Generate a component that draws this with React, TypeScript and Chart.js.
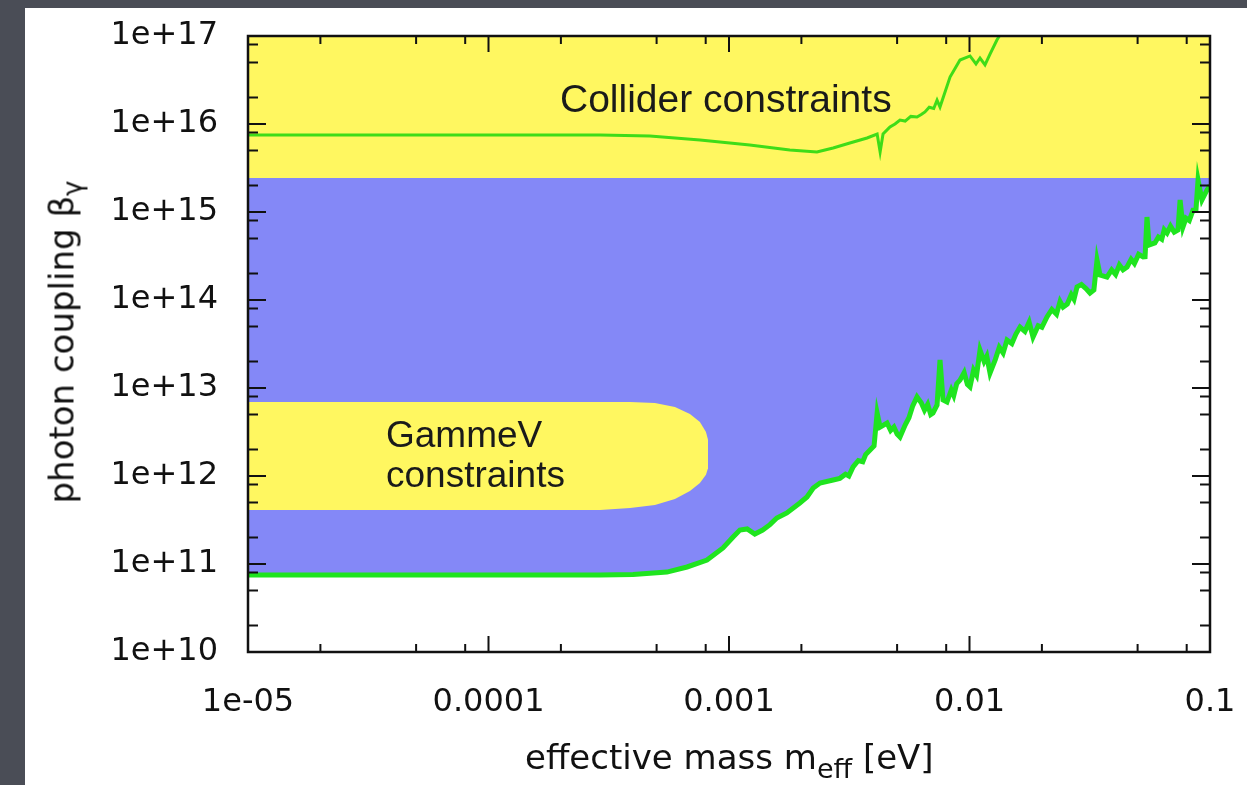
import React, { useEffect, useRef } from 'react';
import { Chart, registerables } from 'chart.js';

Chart.register(...registerables);

// ---- axis ticks ----
const xTickValues = [1e-5, 1e-4, 1e-3, 1e-2, 1e-1];
const xTickLabels = ['1e-05', '0.0001', '0.001', '0.01', '0.1'];
const yTickValues = [1e10, 1e11, 1e12, 1e13, 1e14, 1e15, 1e16, 1e17];
const yTickLabels = ['1e+10', '1e+11', '1e+12', '1e+13', '1e+14', '1e+15', '1e+16', '1e+17'];
const minorMultipliers = [2, 5, 8];

// ---- lower (laboratory) limit curve ----
const lowerMass = [
  1e-5, 2.91e-4, 3.99e-4, 5.52e-4, 6.69e-4, 8.1e-4, 9.44e-4, 1.04e-3, 1.11e-3, 1.19e-3,
  1.28e-3, 1.38e-3, 1.48e-3, 1.58e-3, 1.74e-3, 1.97e-3, 2.11e-3, 2.24e-3, 2.39e-3, 2.71e-3,
  2.89e-3, 3.05e-3, 3.15e-3, 3.28e-3, 3.45e-3, 3.6e-3, 3.7e-3, 3.86e-3, 4.01e-3, 4.13e-3,
  4.25e-3, 4.54e-3, 4.7e-3, 4.85e-3, 5.0e-3, 5.14e-3, 5.4e-3, 5.6e-3, 5.8e-3, 6.05e-3,
  6.3e-3, 6.5e-3, 6.7e-3, 6.9e-3, 7.05e-3, 7.33e-3, 7.54e-3, 7.76e-3, 8.06e-3, 8.4e-3,
  8.6e-3, 8.85e-3, 9.13e-3, 9.5e-3, 9.8e-3, 1.005e-2, 1.04e-2, 1.07e-2, 1.106e-2, 1.15e-2,
  1.18e-2, 1.217e-2, 1.28e-2, 1.33e-2, 1.38e-2, 1.432e-2, 1.5e-2, 1.56e-2, 1.622e-2, 1.7e-2,
  1.77e-2, 1.837e-2, 1.93e-2, 2.0e-2, 2.1e-2, 2.2e-2, 2.3e-2, 2.38e-2, 2.45e-2, 2.55e-2,
  2.65e-2, 2.72e-2, 2.8e-2, 2.92e-2, 3.05e-2, 3.17e-2, 3.29e-2, 3.39e-2, 3.49e-2, 3.73e-2,
  3.9e-2, 4.05e-2, 4.2e-2, 4.35e-2, 4.52e-2, 4.7e-2, 4.85e-2, 5.05e-2, 5.27e-2, 5.37e-2,
  5.47e-2, 5.58e-2, 5.9e-2, 6.1e-2, 6.3e-2, 6.45e-2, 6.63e-2, 6.85e-2, 7.1e-2, 7.36e-2,
  7.51e-2, 7.72e-2, 7.95e-2, 8.2e-2, 8.5e-2, 8.74e-2, 8.92e-2, 9.26e-2, 9.72e-2, 0.1,
];
const lowerCoupling = [
  7.5e10, 7.5e10, 7.6e10, 8.1e10, 9.25e10, 1.11e11, 1.52e11, 2.03e11, 2.43e11, 2.5e11,
  2.19e11, 2.43e11, 2.8e11, 3.33e11, 3.8e11, 4.93e11, 5.77e11, 7.31e11, 8.32e11, 9.01e11,
  9.4e11, 1.05e12, 1.0e12, 1.27e12, 1.5e12, 1.45e12, 1.75e12, 1.97e12, 2.2e12, 5.2e12,
  3.6e12, 4.0e12, 3.3e12, 3.6e12, 3.0e12, 2.77e12, 3.8e12, 4.6e12, 6.2e12, 7.91e12,
  6.8e12, 5.6e12, 6.5e12, 5.0e12, 5.2e12, 6.41e12, 2.08e13, 7.31e12, 6.93e12, 9.5e12,
  8.2e12, 1.12e13, 1.23e13, 1.5e13, 1.1e13, 1.03e13, 1.6e13, 1.4e13, 2.7e13, 2.0e13,
  2.3e13, 1.48e13, 2.1e13, 2.9e13, 2.5e13, 3.51e13, 3.2e13, 4.1e13, 4.93e13, 4.4e13,
  5.6e13, 3.8e13, 5.1e13, 4.9e13, 6.41e13, 7.8e13, 6.9e13, 9.6e13, 8.32e13, 9.0e13,
  1.15e14, 1.02e14, 1.41e14, 1.5e14, 1.35e14, 1.2e14, 1.3e14, 2.85e14, 1.92e14, 1.82e14,
  2.2e14, 1.95e14, 2.5e14, 2.2e14, 2.37e14, 2.9e14, 2.6e14, 3.3e14, 3.08e14, 3.1e14,
  8.77e14, 4.22e14, 4.45e14, 5.2e14, 4.9e14, 6.3e14, 5.77e14, 6.9e14, 5.9e14, 6.24e14,
  1.37e15, 6.76e14, 8.5e14, 8.0e14, 1.05e15, 1.05e15, 2.31e15, 1.37e15, 1.78e15, 2.0e15,
];

// ---- collider limit curve ----
const colliderMass = [
  1e-5, 2.91e-4, 4.69e-4, 7.58e-4, 1.22e-3, 1.79e-3, 2.32e-3, 2.71e-3, 3.18e-3, 3.75e-3,
  4.13e-3, 4.25e-3, 4.37e-3, 4.67e-3, 4.9e-3, 5.14e-3, 5.4e-3, 5.7e-3, 6.05e-3, 6.3e-3,
  6.53e-3, 6.8e-3, 7.1e-3, 7.33e-3, 7.54e-3, 8.3e-3, 9.13e-3, 1.005e-2, 1.064e-2, 1.106e-2,
  1.16e-2, 1.217e-2, 1.3e-2, 1.378e-2,
];
const colliderCoupling = [
  7.5e15, 7.5e15, 7.3e15, 6.58e15, 5.77e15, 5.07e15, 4.81e15, 5.34e15, 6.08e15, 6.93e15,
  7.7e15, 4.81e15, 7.7e15, 9.24e15, 1.0e16, 1.11e16, 1.08e16, 1.22e16, 1.2e16, 1.28e16,
  1.37e16, 1.55e16, 1.5e16, 1.87e16, 1.56e16, 3.42e16, 5.33e16, 5.93e16, 4.81e16, 5.62e16,
  4.71e16, 6.24e16, 9.0e16, 1.17e17,
];

// ---- GammeV excluded island ----
const gammevMass = [1e-5, 2.91e-4, 3.88e-4, 4.92e-4, 5.96e-4, 6.88e-4, 7.57e-4, 8.02e-4, 8.18e-4];
const gammevTop = [6.93e12, 6.93e12, 6.93e12, 6.76e12, 6.09e12, 5.07e12, 4.11e12, 3.16e12, 2.57e12];
const gammevBottom = [4.11e11, 4.11e11, 4.33e11, 4.68e11, 5.48e11, 6.76e11, 8.3e11, 1.03e12, 1.23e12];

// ---- collider excluded band (lower edge) ----
const colliderBandMass = [1e-5, 0.1];
const colliderBandCoupling = [2.43e15, 2.43e15];

const YELLOW = '#fff760';
const BLUE = '#8488f7';
const GREEN = '#1fe41f';
const GREEN2 = '#3fdc18';
const CLEAR = 'rgba(0,0,0,0)';

const pts = (xs: number[], ys: number[]) => xs.map((x, i) => ({ x, y: ys[i] }));

const noPad = (scale: any) => {
  scale.paddingLeft = 0;
  scale.paddingRight = 0;
  scale.paddingTop = 0;
  scale.paddingBottom = 0;
};

const framePlugin = {
  id: 'frame',
  afterDatasetsDraw(chart: any) {
    const { ctx, chartArea, scales } = chart;
    const { left, right, top, bottom } = chartArea;
    const xs = scales.x;
    const ys = scales.y;
    ctx.save();
    ctx.strokeStyle = '#111';
    ctx.lineWidth = 2;
    ctx.beginPath();
    xTickValues.forEach((d, i) => {
      const p = xs.getPixelForValue(d);
      ctx.moveTo(p, bottom); ctx.lineTo(p, bottom - 16);
      ctx.moveTo(p, top); ctx.lineTo(p, top + 16);
      if (i < xTickValues.length - 1) {
        minorMultipliers.forEach((m) => {
          const q = xs.getPixelForValue(d * m);
          ctx.moveTo(q, bottom); ctx.lineTo(q, bottom - 8);
          ctx.moveTo(q, top); ctx.lineTo(q, top + 8);
        });
      }
    });
    yTickValues.forEach((d, i) => {
      const p = ys.getPixelForValue(d);
      ctx.moveTo(left, p); ctx.lineTo(left + 18, p);
      ctx.moveTo(right, p); ctx.lineTo(right - 18, p);
      if (i < yTickValues.length - 1) {
        minorMultipliers.forEach((m) => {
          const q = ys.getPixelForValue(d * m);
          ctx.moveTo(left, q); ctx.lineTo(left + 10, q);
          ctx.moveTo(right, q); ctx.lineTo(right - 10, q);
        });
      }
    });
    ctx.stroke();
    ctx.lineWidth = 2.5;
    ctx.strokeRect(left, top, right - left, bottom - top);
    ctx.restore();
  },
};

export default function App() {
  const canvasRef = useRef<HTMLCanvasElement | null>(null);

  useEffect(() => {
    const canvas = canvasRef.current;
    if (!canvas) return;
    const tickFont = { family: 'DejaVu Sans', size: 32 };
    const chart = new Chart(canvas, {
      type: 'line',
      data: {
        datasets: [
          { label: 'collider limit', data: pts(colliderMass, colliderCoupling), borderColor: GREEN2, borderWidth: 3, pointRadius: 0, fill: false, clip: 0 } as any,
          { label: 'lab limit', data: pts(lowerMass, lowerCoupling), borderColor: GREEN, borderWidth: 5, pointRadius: 0, fill: false, clip: 0 } as any,
          { label: 'GammeV top', data: pts(gammevMass, gammevTop), borderColor: CLEAR, borderWidth: 1, pointRadius: 0, fill: '+1', backgroundColor: YELLOW, clip: 0 } as any,
          { label: 'GammeV bottom', data: pts(gammevMass, gammevBottom), borderColor: CLEAR, borderWidth: 1, pointRadius: 0, fill: false, clip: 0 } as any,
          { label: 'collider band', data: pts(colliderBandMass, colliderBandCoupling), borderColor: CLEAR, borderWidth: 1, pointRadius: 0, fill: 'end', backgroundColor: YELLOW, clip: 0 } as any,
          { label: 'excluded', data: pts(lowerMass, lowerCoupling), borderColor: CLEAR, borderWidth: 1, pointRadius: 0, fill: 'end', backgroundColor: BLUE, clip: 0 } as any,
        ],
      },
      options: {
        responsive: false,
        animation: false,
        devicePixelRatio: 1,
        layout: { padding: { top: 36, right: 37, left: 0, bottom: 0 } },
        plugins: { legend: { display: false }, tooltip: { enabled: false } },
        elements: { line: { tension: 0 } },
        scales: {
          x: {
            type: 'logarithmic',
            min: 1e-5,
            max: 0.1,
            grid: { display: false, drawTicks: false },
            border: { display: false },
            afterBuildTicks: (scale: any) => { scale.ticks = xTickValues.map((v) => ({ value: v })); },
            afterFit: (scale: any) => { scale.height = 133; noPad(scale); },
            ticks: {
              autoSkip: false, maxRotation: 0, padding: 31, color: '#111', font: tickFont,
              callback: (_v: any, i: number) => xTickLabels[i],
            },
          },
          y: {
            type: 'logarithmic',
            min: 1e10,
            max: 1e17,
            grid: { display: false, drawTicks: false },
            border: { display: false },
            afterBuildTicks: (scale: any) => { scale.ticks = yTickValues.map((v) => ({ value: v })); },
            afterFit: (scale: any) => { scale.width = 248; noPad(scale); },
            ticks: {
              autoSkip: false, padding: 30, color: '#111', font: tickFont,
              callback: (_v: any, i: number) => yTickLabels[i],
            },
          },
        },
      } as any,
      plugins: [framePlugin],
    });
    return () => chart.destroy();
  }, []);

  const ann: React.CSSProperties = { position: 'absolute', fontFamily: '"Liberation Sans", Arial, sans-serif', color: '#1a1a1a', whiteSpace: 'nowrap' };
  const axisFont: React.CSSProperties = { position: 'absolute', fontFamily: '"DejaVu Sans", sans-serif', color: '#111', whiteSpace: 'nowrap' };

  return (
    <div style={{ position: 'fixed', left: 0, top: 0, width: 1247, height: 785, background: '#4a4d56', overflow: 'hidden' }}>
      <div style={{ position: 'absolute', left: 25, top: 8, right: 0, bottom: 0, background: '#ffffff' }} />
      <canvas ref={canvasRef} width={1247} height={785} style={{ position: 'absolute', left: 0, top: 0, width: 1247, height: 785 }} />
      <div style={{ ...ann, left: 560, top: 79, fontSize: 39, lineHeight: '39px' }}>Collider constraints</div>
      <div style={{ ...ann, left: 386, top: 415, fontSize: 37, lineHeight: '40px' }}>
        GammeV<br />constraints
      </div>
      <div style={{ ...axisFont, left: 525, top: 740, fontSize: 34, lineHeight: '34px' }}>
        effective mass m
        <span style={{ fontSize: 27, position: 'relative', top: 9 }}>eff</span>
        {' [eV]'}
      </div>
      <div
        style={{
          ...axisFont, left: 63, top: 342, fontSize: 34, lineHeight: '34px',
          transform: 'translate(-50%, -50%) rotate(-90deg)',
        }}
      >
        photon coupling β
        <span style={{ fontSize: 26, position: 'relative', top: 8 }}>γ</span>
      </div>
    </div>
  );
}
